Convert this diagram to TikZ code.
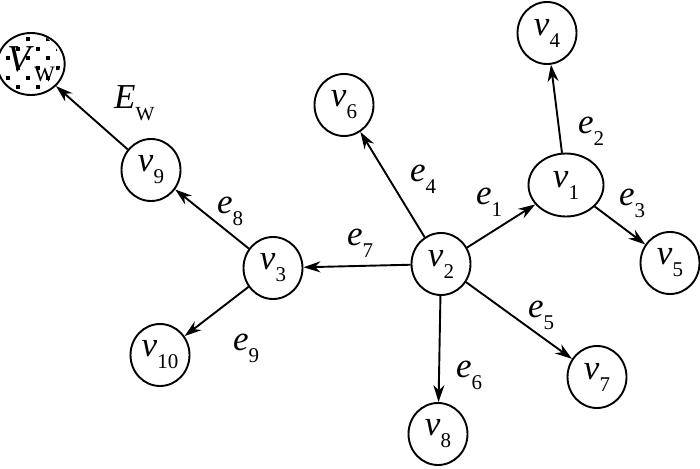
\documentclass[tikz,border=0pt]{standalone}
\usepackage{fontspec}
\setmainfont{Liberation Serif}
\usetikzlibrary{arrows.meta}
\usetikzlibrary{shapes.geometric}

\newcommand{\sym}[2]{\textit{#1}\raisebox{-12pt}{\fontsize{21}{21}\selectfont #2}}

\begin{document}
\begin{tikzpicture}[x=1pt, y=-1pt,
  vert/.style={draw, ellipse, line width=1.9pt, minimum width=59pt, minimum height=62pt,
    inner sep=0pt, font=\fontsize{35}{40}\selectfont},
  elab/.style={anchor=base west, inner sep=0pt, font=\fontsize{35}{40}\selectfont},
  arr/.style={line width=1.9pt, -{Stealth[length=17pt, width=11pt, inset=5.5pt]}}]
\useasboundingbox (0,0) rectangle (700,468);

% dots inside the W disc
\begin{scope}
\clip (31,64) ellipse [x radius=29, y radius=31];
\foreach \r in {-3,...,3} {
  \pgfmathsetmacro{\yy}{62.4+9.7*\r}
  \pgfmathsetmacro{\sh}{mod(abs(\r),2)*10}
  \foreach \i in {-1,...,3}
    \fill (6+20*\i+\sh, \yy-2) rectangle ++(4,-4);
}
\end{scope}

% vertices
\node[vert] (vw) at (31,64) {{\fontsize{38}{40}\selectfont\textit{V}}\raisebox{-10pt}{\fontsize{22}{22}\selectfont W}};
\node[vert] (v9) at (151,170) {\sym{v}{9}};
\node[vert] (v6) at (344,105) {\sym{v}{6}};
\node[vert] (v4) at (547,33) {\sym{v}{4}};
\node[vert, minimum width=75pt, minimum height=63pt] (v1) at (566,185) {\sym{v}{1}};
\node[vert] (v5) at (670,263) {\sym{v}{5}};
\node[vert] (v2) at (441,264) {\sym{v}{2}};
\node[vert] (v7) at (597,377) {\sym{v}{7}};
\node[vert] (v8) at (438,434) {\sym{v}{8}};
\node[vert] (v3) at (273,268) {\sym{v}{3}};
\node[vert] (v10) at (160,355) {\sym{v}{10}};

% edges
\draw[arr] (v2) -- (v1);
\draw[arr] (v1) -- (v4);
\draw[arr] (v1) -- (v5);
\draw[arr] (v2) -- (v6);
\draw[arr] (v2) -- (v7);
\draw[arr] (v2) -- (v8);
\draw[arr] (v2) -- (v3);
\draw[arr] (v3) -- (v9);
\draw[arr] (v3) -- (v10);
\draw[arr] (v9) -- (vw);

% edge labels
\node[elab] (le1) at (476,204) {\sym{e}{1}};
\node[elab] (le2) at (578,133) {\sym{e}{2}};
\node[elab] (le3) at (619,205) {\sym{e}{3}};
\node[elab] (le4) at (410,181) {\sym{e}{4}};
\node[elab] (le5) at (528,317) {\sym{e}{5}};
\node[elab] (le6) at (456,377) {\sym{e}{6}};
\node[elab] (le7) at (347,245) {\sym{e}{7}};
\node[elab] (le8) at (217,213) {\sym{e}{8}};
\node[elab] (le9) at (233,350) {\sym{e}{9}};
\node[elab] (lew) at (114,108) {\textit{E}\raisebox{-13pt}{\fontsize{20}{20}\selectfont W}};
\end{tikzpicture}
\end{document}
